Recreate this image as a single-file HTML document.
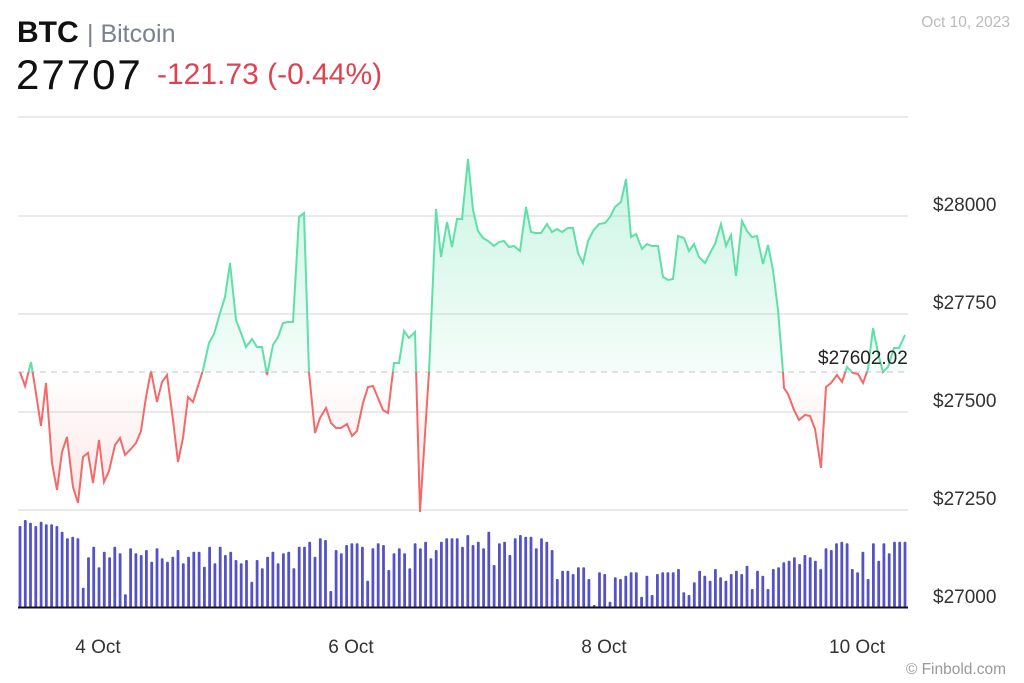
<!DOCTYPE html>
<html><head><meta charset="utf-8"><style>
body{margin:0;width:1024px;height:683px;background:#fff;font-family:"Liberation Sans",sans-serif;overflow:hidden;position:relative}
.t{position:absolute;white-space:nowrap}
</style></head><body>
<div class="t" style="left:17px;top:16px;font-size:30px;font-weight:bold;color:#111">BTC <span style="font-weight:normal;color:#7a8290;font-size:25px">| Bitcoin</span></div>
<div class="t" style="left:16px;top:51px;font-size:42px;letter-spacing:2px;color:#111;line-height:48px">27707</div>
<div class="t" style="left:157px;top:55px;font-size:30px;color:#e0434f;line-height:40px">-121.73 (-0.44%)</div>
<div class="t" style="right:14px;top:14px;font-size:15.5px;color:#bbb">Oct 10, 2023</div>
<svg width="1024" height="683" style="position:absolute;left:0;top:0" id="s">
<defs>
<linearGradient id="gg" x1="0" y1="150" x2="0" y2="372" gradientUnits="userSpaceOnUse"><stop offset="0" stop-color="#5ee0a8" stop-opacity="0.35"/><stop offset="1" stop-color="#5ee0a8" stop-opacity="0.06"/></linearGradient>
<linearGradient id="rg" x1="0" y1="372" x2="0" y2="510" gradientUnits="userSpaceOnUse"><stop offset="0" stop-color="#f06a6a" stop-opacity="0"/><stop offset="1" stop-color="#f06a6a" stop-opacity="0.18"/></linearGradient>
<clipPath id="ca"><rect x="0" y="0" width="1024" height="372"/></clipPath>
<clipPath id="cb"><rect x="0" y="372" width="1024" height="300"/></clipPath>
</defs>
<g stroke="#e3e3e3" stroke-width="1.5">
<line x1="18" x2="908" y1="117" y2="117"/><line x1="18" x2="908" y1="216" y2="216"/><line x1="18" x2="908" y1="314" y2="314"/><line x1="18" x2="908" y1="412" y2="412"/><line x1="18" x2="908" y1="510" y2="510"/>
</g>
<g id="bars" fill="#5552c9"></g>
<line x1="18" x2="908" y1="607.5" y2="607.5" stroke="#111" stroke-width="2"/>
<path id="fa" clip-path="url(#ca)" fill="url(#gg)"/>
<path id="fb" clip-path="url(#cb)" fill="url(#rg)"/>
<line x1="18" x2="908" y1="372" y2="372" stroke="#d8d8d8" stroke-width="1.5" stroke-dasharray="6,5"/>
<path id="la" clip-path="url(#ca)" fill="none" stroke="#5ee0a8" stroke-width="2"/>
<path id="lb" clip-path="url(#cb)" fill="none" stroke="#f26a6a" stroke-width="2"/>
<g font-size="19" fill="#333" font-family="Liberation Sans,sans-serif">
<text x="933" y="211">$28000</text><text x="933" y="309">$27750</text><text x="933" y="407">$27500</text><text x="933" y="505">$27250</text><text x="933" y="603">$27000</text>
<text x="818" y="364" fill="#222">$27602.02</text>
<text x="98" y="653" text-anchor="middle">4 Oct</text><text x="351" y="653" text-anchor="middle">6 Oct</text><text x="604" y="653" text-anchor="middle">8 Oct</text><text x="857" y="653" text-anchor="middle">10 Oct</text>
</g>
<text x="1006" y="674" text-anchor="end" font-size="15.5" fill="#999" font-family="Liberation Sans,sans-serif">© Finbold.com</text>
</svg>
<script>
var b1=[78,60,68,78,65,73,73,78,95,115,110,115,263,172,140,202,155,172,140,160,283,145,160,165,150,185,145,175,185,170,150,190,170,155,155,200,140,190,140,165,155,180,190,180,245,180,205,170,155,190,160,155,205,140,140,125,170,115,120,273,150,160,135,130,130,140,242,145,130,135,210,160,145,160,205,130,145,125,175,150,125,115,115,115,140,105,135,125,145,95,195];
var b2=[130,125,165,115,105,110,110,145,115,125,150,237,212,212,222,202,202,237,315,217,222,305,232,237,227,217,217,290,227,285,222,217,217,217,207,277,285,247,212,227,242,207,232,242,222,212,222,197,267,212,227,267,207,202,187,182,172,192,165,172,182,207,145,150,130,125,130,207,217,155,237,130,182,130,160,125,125,125];
var bs=b1.concat(b2),h='',n=bs.length;
for(var i=0;i<n;i++){var x=20+i*(905-20)/(n-1),y=500+bs[i]/3;h+='<rect x="'+(x-1.4).toFixed(1)+'" y="'+y.toFixed(1)+'" width="2.8" height="'+(607-y).toFixed(1)+'" rx="1"/>';}
document.getElementById('bars').innerHTML=h;
var p=[20,372,25,386,31,362,35,387,41,426,46,383,52,463,57,490,62,452,67,437,73,487,78,503,83,457,88,453,93,483,99,440,104,482,109,471,115,445,120,438,125,455,130,450,136,443,141,431,146,397,151,371,157,402,162,382,167,375,173,420,178,462,183,438,188,397,193,402,198,386,203,370,209,343,214,334,220,313,225,297,230,263,236,320,241,333,246,347,252,339,257,347,262,347,267,375,273,345,278,337,283,323,288,322,293,322,299,217,304,213,309,372,315,433,320,418,326,408,331,423,336,428,341,428,347,424,352,436,357,431,363,403,368,387,373,386,378,398,383,410,388,413,394,363,399,363,404,331,409,338,415,332,420,512,429,372,436,209,441,257,447,222,452,247,457,219,462,219,468,159,473,210,478,231,483,238,488,241,494,246,499,242,504,241,509,247,514,246,520,251,526,207,531,232,536,233,541,233,547,224,552,232,557,229,562,232,568,228,573,228,578,253,583,263,588,241,593,231,599,224,605,223,610,217,615,207,621,202,626,179,631,237,636,234,642,249,647,244,652,246,658,246,663,277,668,280,673,279,678,236,684,238,689,251,694,244,699,257,705,263,710,253,715,244,721,224,726,246,731,235,736,276,742,221,747,231,752,237,757,236,763,264,768,245,773,270,778,310,783,372,784,388,788,394,794,410,799,420,805,415,810,416,815,429,821,468,826,387,831,383,837,375,842,382,847,367,853,373,858,374,863,383,868,369,873,328,878,353,883,372,888,367,894,348,899,348,905,335];
var d='M'+p[0]+','+p[1];for(var j=2;j<p.length;j+=2)d+='L'+p[j]+','+p[j+1];
['la','lb'].forEach(function(k){document.getElementById(k).setAttribute('d',d)});
var f=d+'L905,372L20,372Z';['fa','fb'].forEach(function(k){document.getElementById(k).setAttribute('d',f)});
</script>
</body></html>
